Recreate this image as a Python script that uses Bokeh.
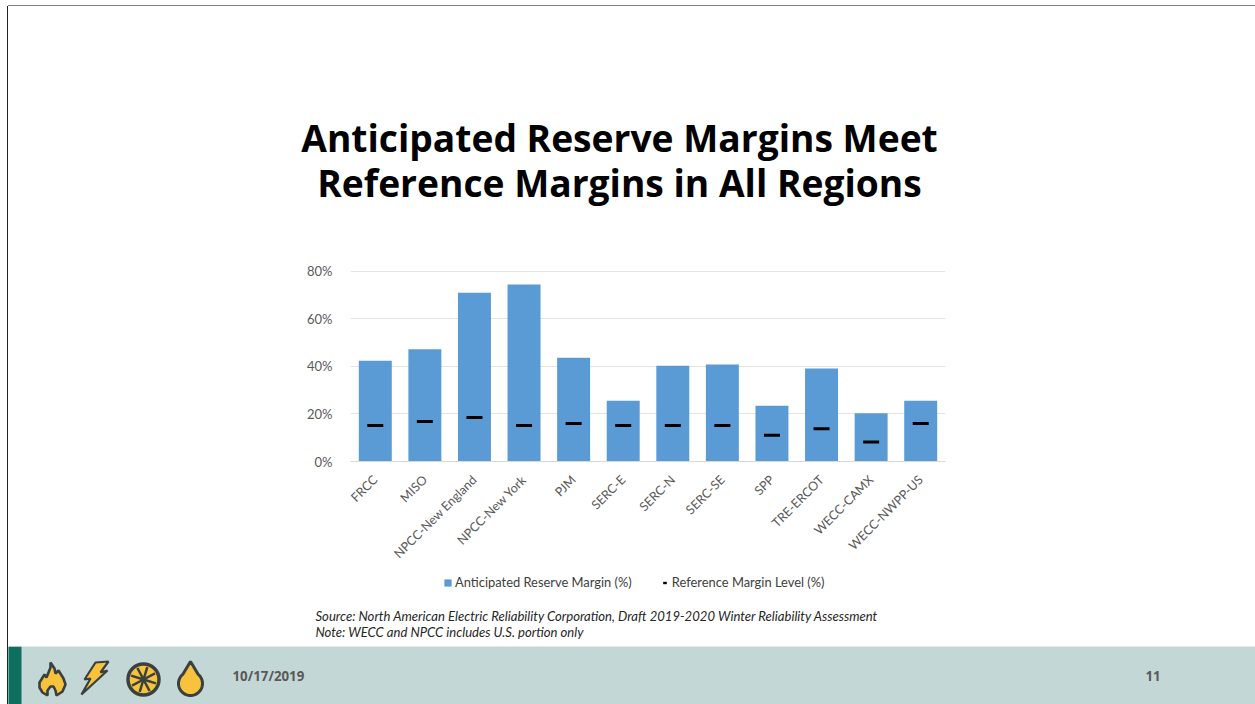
from math import pi
import numpy as np
from bokeh.embed import file_html
from bokeh.resources import INLINE
from bokeh.plotting import figure
from bokeh.layouts import column
from bokeh.models import (Range1d, FactorRange, Legend, LegendItem,
                          PrintfTickFormatter, FixedTicker, ColumnDataSource)
from bokeh.core.properties import value

regions = ["FRCC", "MISO", "NPCC-New England", "NPCC-New York", "PJM", "SERC-E", "SERC-N",
           "SERC-SE", "SPP", "TRE-ERCOT", "WECC-CAMX", "WECC-NWPP-US"]
anticipated = [42.4, 47.3, 71.1, 74.5, 43.7, 25.6, 40.3, 40.8, 23.5, 39.2, 20.3, 25.6]
reference = [15.2, 16.8, 18.5, 15.2, 16.0, 15.2, 15.2, 15.2, 11.0, 13.8, 8.2, 16.0]
y_ticks = [0, 20, 40, 60, 80]
title_lines = ["Anticipated Reserve Margins Meet", "Reference Margins in All Regions"]
notes = ["Source: North American Electric Reliability Corporation, Draft 2019-2020 Winter Reliability Assessment",
         "Note: WECC and NPCC includes U.S. portion only"]
legend_names = ["Anticipated Reserve Margin (%)", "Reference Margin Level (%)"]
date_text = "10/17/2019"
page_text = "11"

# Bokeh's page has no body margin: page pixels equal canvas pixels plus the column's own margin.
PAGE_L, PAGE_R, PAGE_T, PAGE_B = 8, 1255, 6, 704
W = PAGE_R - PAGE_L
BODY = "Lato"


def strip(top, bottom, fill="white"):
    """A figure whose data coordinates are page pixels, for the slide's non-chart parts."""
    f = figure(width=W, height=bottom - top, x_range=Range1d(PAGE_L, PAGE_R), y_range=Range1d(bottom, top),
               output_backend="svg", toolbar_location=None, outline_line_color=None, min_border=0,
               background_fill_color=fill, border_fill_color=fill, x_axis_type=None, y_axis_type=None)
    f.grid.visible = False
    f.frame_align = False
    return f


# title
t_fig = strip(PAGE_T, 248)
t_fig.text(x=[619, 619], y=[137, 182], text=title_lines, text_font=value("Open Sans"), text_font_style="bold",
           text_font_size="37.2px", text_color="black", text_align="center", text_baseline="middle")

# chart: frame from page x 350 to 945, 0% at page y 461, 80% at page y 271
p = figure(width=W, height=322, x_range=FactorRange(*regions), y_range=Range1d(0, 80.84),
           output_backend="svg", toolbar_location=None, outline_line_color=None,
           min_border_left=342, min_border_right=310, min_border_top=21, min_border_bottom=109,
           background_fill_color="white", border_fill_color="white")
p.frame_align = False
src = ColumnDataSource(dict(r=regions, a=anticipated, m=reference))
p.vbar(x="r", top="a", width=0.665, bottom=0, source=src, color="#5B9BD5", line_color=None)
p.scatter(x="r", y="m", source=src, marker="dash", size=16, line_color="black", line_width=3)

p.xgrid.visible = False
p.ygrid.grid_line_color = "#E3E3E3"
p.ygrid.ticker = FixedTicker(ticks=y_ticks)
p.yaxis.ticker = FixedTicker(ticks=y_ticks)
p.yaxis.formatter = PrintfTickFormatter(format="%d%%")
p.yaxis.axis_line_color = None
p.yaxis.major_tick_line_color = None
p.yaxis.minor_tick_line_color = None
p.yaxis.major_label_standoff = 12
p.xaxis.axis_line_color = "#D9D9D9"
p.xaxis.major_tick_line_color = None
p.xaxis.minor_tick_line_color = None
p.xaxis.major_label_orientation = pi / 4
p.xaxis.major_label_standoff = 10
for ax, size in ((p.xaxis, "12.5px"), (p.yaxis, "13px")):
    ax.major_label_text_font = BODY
    ax.major_label_text_font_size = size
    ax.major_label_text_color = "#595959"

# legend and notes; the key glyphs sit off the visible range, only their legend swatches show
n_fig = strip(570, 646)
key_bar = n_fig.quad(left=[-20], right=[-10], top=[-20], bottom=[-10], color="#5B9BD5", line_color=None)
key_dash = n_fig.scatter(x=[-20], y=[-20], marker="dash", size=9, line_color="black", line_width=2.4)
legend = Legend(items=[LegendItem(label=legend_names[0], renderers=[key_bar]),
                       LegendItem(label=legend_names[1], renderers=[key_dash])],
                orientation="horizontal", location=(435, 56), border_line_color=None,
                background_fill_alpha=0, glyph_width=9, glyph_height=9, spacing=28,
                label_text_font=BODY, label_text_font_size="12.9px", label_text_color="#404040",
                margin=0, padding=0, label_standoff=3)
n_fig.add_layout(legend)
n_fig.text(x=[315, 315], y=[615, 631], text=notes, text_font=value(BODY), text_font_style="italic",
           text_font_size="13.1px", text_color="#262626", text_baseline="middle")

# footer band
b = strip(646, PAGE_B, "#C3D8D6")
b.quad(left=[7], right=[21], top=[646], bottom=[704], color="#0F6F5F", line_color=None)
INK, GOLD = "#3A4040", "#F8C33C"
flame = ([50, 54, 55, 58, 63, 65, 62, 56, 55, 53, 50, 47, 47, 42, 39, 39, 44, 46, 48, 50],
         [662, 668, 673, 670, 678, 684, 691, 695, 690, 686, 686, 690, 695, 692, 687, 682, 674, 677, 672, 667])
bolt = ([95, 108, 100, 107, 81, 90, 84],
        [662, 661, 672, 670, 694, 678, 679])
t = np.linspace(-0.9, pi + 0.9, 40)
drop = (list(190 + 12 * np.cos(t)) + [190], list(683 + 12 * np.sin(t)) + [661])
b.patch(*flame, fill_color=GOLD, line_color=INK, line_width=2.6)
b.patch(*bolt, fill_color=GOLD, line_color=INK, line_width=2.2)
b.patch(*drop, fill_color=GOLD, line_color=INK, line_width=3)
b.circle(x=[143], y=[679], radius=15.5, fill_color=GOLD, line_color=INK, line_width=3.5)
ang = np.arange(8) * pi / 4 + 0.3
b.segment(x0=143, y0=679, x1=list(143 + 13 * np.cos(ang)), y1=list(679 + 13 * np.sin(ang)),
          line_color=INK, line_width=2.5)
b.text(x=[232], y=[675], text=[date_text], text_font=value("Open Sans"), text_font_style="bold",
       text_font_size="13.3px", text_color="#595959", text_baseline="middle")
b.text(x=[1145], y=[675], text=[page_text], text_font=value("Open Sans"), text_font_style="bold",
       text_font_size="13.3px", text_color="#595959", text_baseline="middle")

layout = column(t_fig, p, n_fig, b, spacing=0)
layout.margin = (PAGE_T, 0, 0, PAGE_L)
layout.styles = {"box-shadow": "-1px 0 0 #222222, 0 -1px 0 #808080"}
open("out.html", "w").write(file_html(layout, INLINE))
